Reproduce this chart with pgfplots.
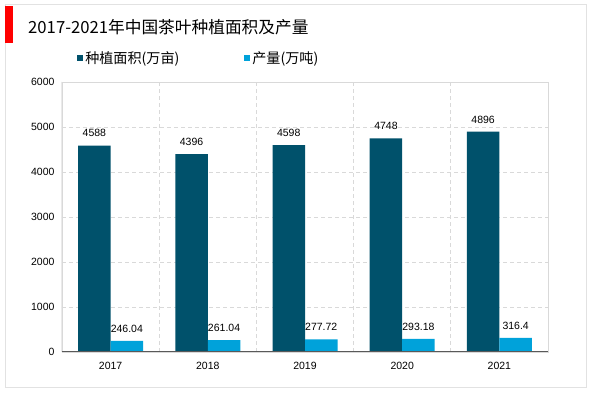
\documentclass[border=0pt]{standalone}
\usepackage{fontspec}
\setmainfont{Liberation Sans}
\newfontfamily\cjk{Noto Sans CJK SC}
\usepackage{pgfplots}
\pgfplotsset{compat=1.18}
\definecolor{darkbar}{RGB}{0,81,107}
\definecolor{lightbar}{RGB}{0,162,218}
\definecolor{gridc}{RGB}{217,217,217}
\definecolor{framec}{RGB}{226,226,226}
\begin{document}
\begin{tikzpicture}
\useasboundingbox (0pt,0pt) rectangle (600pt,393pt);
\fill[white] (0pt,0pt) rectangle (600pt,393pt);
\draw[framec, line width=1pt] (5pt,5pt) rectangle (586pt,388pt);
\fill[red] (5pt,350pt) rectangle (13pt,387pt);
\node[anchor=west, inner sep=0pt, font=\cjk\fontsize{16.7}{20}\selectfont] at (28pt,366pt) {2017-2021年中国茶叶种植面积及产量};
\begin{axis}[
  at={(62pt,41pt)}, anchor=south west,
  width=486pt, height=270pt, scale only axis,
  ybar, bar width=32.5pt,
  xmin=-0.5, xmax=4.5, ymin=0, ymax=6000,
  xtick={0,1,2,3,4}, xticklabels={2017,2018,2019,2020,2021},
  minor xtick={0.5,1.5,2.5,3.5},
  ytick={0,1000,2000,3000,4000,5000,6000},
  xminorgrids, ymajorgrids,
  grid style={gridc, dash pattern=on 4pt off 3pt, line width=0.8pt},
  minor grid style={gridc, dash pattern=on 4pt off 3pt, line width=0.8pt},
  major tick length=0pt, minor tick length=0pt,
  axis line style={gridc, line width=0.8pt},
  tick label style={font=\fontsize{10.5}{12}\selectfont},
  /pgf/number format/assume math mode=true,
  /pgf/number format/1000 sep={},
  yticklabel style={xshift=-4pt},
  xticklabel style={yshift=-7pt},
  nodes near coords,
  every node near coord/.append style={font=\fontsize{10.5}{12}\selectfont, yshift=5pt, text=black},
  legend style={at={(0.031,1.089)}, anchor=west, draw=none, fill=none,
    font=\cjk\fontsize{14.1}{16}\selectfont, inner sep=0pt,
    /tikz/every even column/.append style={column sep=63pt}},
  legend columns=2,
  legend image code/.code={\fill[#1] (0pt,-3pt) rectangle (6pt,3pt);},
]
\addplot[fill=darkbar, draw=none, bar shift=-16.25pt] coordinates {(0,4588) (1,4396) (2,4598) (3,4748) (4,4896)};
\addplot[fill=lightbar, draw=none, bar shift=16.25pt] coordinates {(0,246.04) (1,261.04) (2,277.72) (3,293.18) (4,316.4)};
\legend{种植面积(万亩),产量(万吨)}
\draw[black!65, line width=1pt] (rel axis cs:0,1) -- (rel axis cs:0,0) -- (rel axis cs:1,0);
\end{axis}
\end{tikzpicture}
\end{document}
